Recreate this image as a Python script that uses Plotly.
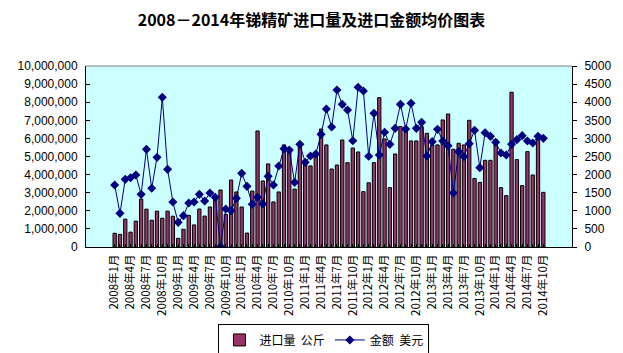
import plotly.graph_objects as go

months = [f"{y}年{m}月" for y in range(2008, 2015) for m in range(1, 13)][:82]

qty_m = [0.76, 0.70, 1.54, 0.82, 1.43, 2.65, 2.09, 1.48, 1.98, 1.59,
         1.98, 1.70, 0.48, 0.98, 1.75, 1.22, 2.10, 1.71, 2.21, 2.80,
         3.15, 1.80, 3.70, 3.04, 2.21, 0.77, 3.09, 6.41, 3.65, 4.59,
         2.49, 3.04, 5.64, 5.36, 3.20, 5.64, 4.75, 4.48, 5.14, 6.52,
         5.64, 4.31, 4.53, 5.91, 4.66, 5.47, 5.25, 3.06, 3.55, 4.66,
         8.25, 5.97, 3.28, 5.14, 6.65, 6.46, 5.86, 5.86, 6.65, 6.28,
         5.64, 5.64, 7.02, 7.35, 5.40, 5.73, 5.64, 7.00, 3.79, 3.57,
         4.79, 4.79, 5.93, 3.28, 2.84, 8.55, 4.83, 3.39, 5.27, 3.98,
         5.97, 3.02]
qty = [v * 1_000_000 for v in qty_m]

usd = [1713, 930, 1869, 1915, 1989, 1455, 2698, 1621, 2477, 4134,
       2145, 1243, 681, 866, 1215, 1243, 1455, 1271, 1492, 1372,
       10, 1050, 1004, 1344, 2035, 1676, 1179, 1372, 1188, 1952,
       1713, 2238, 2716, 2680, 1786, 2836, 2339, 2514, 2569, 3112,
       3812, 3315, 4337, 3941, 3785, 2937, 4411, 4309, 2505, 3692,
       2541, 3168, 2836, 3278, 3941, 3260, 3969, 3278, 3444, 2514,
       2910, 3250, 2928, 2799, 1492, 2634, 2500, 2855, 3223, 2192,
       3158, 3057, 2891, 2597, 2541, 2836, 2965, 3076, 2928, 2873,
       3057, 3002]

tick_text = [m if i % 3 == 0 else "" for i, m in enumerate(months)]

fig = go.Figure()
fig.add_trace(go.Bar(
    x=months, y=qty, name="进口量  公斤",
    marker=dict(color="#993366", line=dict(color="black", width=1)),
))
fig.add_trace(go.Scatter(
    x=months, y=usd, name="金额  美元", yaxis="y2", mode="lines+markers",
    line=dict(color="#000080", width=1),
    marker=dict(symbol="diamond", size=7, color="#000080"),
))

fig.update_layout(
    width=623, height=353,
    margin=dict(l=86, r=51, t=66, b=106),
    paper_bgcolor="white", plot_bgcolor="#CCFFFF",
    bargap=0.38,
    title=dict(text="<b>2008－2014年锑精矿进口量及进口金额均价图表</b>",
               x=0.5, xanchor="center", y=0.943, yanchor="middle",
               font=dict(family="Noto Sans CJK SC", size=16, color="black")),
    font=dict(family="Liberation Sans, Noto Sans CJK SC", size=11, color="black"),
    xaxis=dict(
        type="category", tickmode="array", tickvals=months, ticktext=tick_text,
        tickangle=-90, ticks="inside", ticklen=3, tickcolor="black",
        showline=True, linecolor="black", linewidth=1,
        tickfont=dict(family="Noto Sans CJK SC", size=11.5),
        showgrid=False, automargin=False, ticklabelstandoff=2,
    ),
    yaxis=dict(
        range=[0, 10_000_000], dtick=1_000_000, tickformat=",d",
        ticks="inside", ticklen=4, tickcolor="black",
        showline=True, linecolor="black", linewidth=1,
        showgrid=False, zeroline=False, automargin=False,
        tickfont=dict(family="Liberation Sans", size=12),
        ticklabelstandoff=5,
    ),
    yaxis2=dict(
        range=[0, 5000], dtick=500, overlaying="y", side="right",
        ticks="outside", ticklen=4, tickcolor="black",
        showline=True, linecolor="black", linewidth=1,
        showgrid=False, zeroline=False, automargin=False,
        tickfont=dict(family="Liberation Sans", size=12),
        ticklabelstandoff=5,
    ),
    legend=dict(
        orientation="h", xref="container", yref="container",
        x=0.52, xanchor="center", y=0.037, yanchor="middle",
        bordercolor="black", borderwidth=1, bgcolor="white",
        font=dict(family="Noto Sans CJK SC", size=12),
        itemwidth=30, tracegroupgap=0,
    ),
    shapes=[dict(type="line", xref="paper", yref="paper", x0=0, x1=1, y0=1, y1=1,
                 line=dict(color="#808080", width=1))],
)

fig.write_html("out.html")
